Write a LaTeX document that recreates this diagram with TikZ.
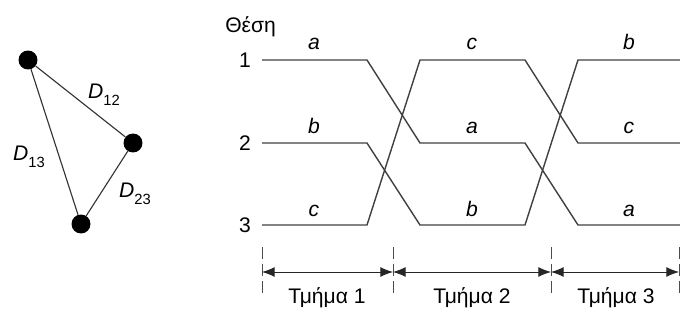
\documentclass[tikz,border=0pt]{standalone}
\usepackage{fontspec}
\setmainfont{Liberation Sans}
\usetikzlibrary{arrows.meta}
\newcommand{\dlab}[1]{\textit{D}\raisebox{-5pt}{\fontsize{10.5}{12}\selectfont #1}}
\tikzset{
  vtx/.style={circle, fill=black, inner sep=0pt, minimum size=13.5pt},
  trk/.style={draw=black!75, line width=1pt},
  tlab/.style={anchor=base, font=\fontsize{15}{18}\selectfont\itshape},
  guide/.style={draw=black!70, line width=0.6pt, dash pattern=on 8.5pt off 3.5pt},
  dimln/.style={draw=black!85, line width=0.6pt, {Latex[length=9pt,width=7pt]}-{Latex[length=9pt,width=7pt]}}
}
\begin{document}
\begin{tikzpicture}[x=0.025cm, y=-0.025cm, font=\fontsize{15}{18}\selectfont]
\useasboundingbox (0,0) rectangle (680,329);
% triangle of points
\node[vtx] (p1) at (28,60) {};
\node[vtx] (p2) at (133,143) {};
\node[vtx] (p3) at (81,224) {};
\draw[line width=0.8pt, black!80] (p1) -- (p2) -- (p3) -- (p1);
\node (d12) at (104,95) {\dlab{12}};
\node (d13) at (29,157) {\dlab{13}};
\node (d23) at (135,194) {\dlab{23}};
% positions and break points
\node[anchor=base west, inner sep=0pt] (hd) at (225,32) {Θέση};
\foreach \y [count=\i] in {60,143,225} {
  \node (pos\i) at (245,\y) {\i};
  \foreach \x [count=\j] in {262,367,420,525,578,680}
    \coordinate (k\j-\i) at (\x,\y);
}
% tracks
\draw[trk] (k1-1) -- (k2-1) -- (k3-2) -- (k4-2) -- (k5-3) -- (k6-3);
\draw[trk] (k1-2) -- (k2-2) -- (k3-3) -- (k4-3) -- (k5-1) -- (k6-1);
\draw[trk] (k1-3) -- (k2-3) -- (k3-1) -- (k4-1) -- (k5-2) -- (k6-2);
\foreach \l/\x/\y in {a/314/50, b/314/133, c/314/216, c/472/50, a/472/133, b/472/216, b/629/50, c/629/133, a/629/216}
  \node[tlab] (l-\x-\y) at (\x,\y) {\l};
% sections
\foreach \x [count=\j] in {262,393,551,679} {
  \coordinate (g\j) at (\x,272);
  \coordinate (gt\j) at (\x,247);
  \coordinate (gb\j) at (\x,297);
  \draw[guide] (gt\j) -- (gb\j);
}
\draw[dimln] (g1) -- (g2);
\draw[dimln] (g2) -- (g3);
\draw[dimln] (g3) -- (g4);
\node[anchor=base] (s1) at (327,303) {Τμήμα 1};
\node[anchor=base] (s2) at (472,303) {Τμήμα 2};
\node[anchor=base] (s3) at (616,303) {Τμήμα 3};
\end{tikzpicture}
\end{document}
